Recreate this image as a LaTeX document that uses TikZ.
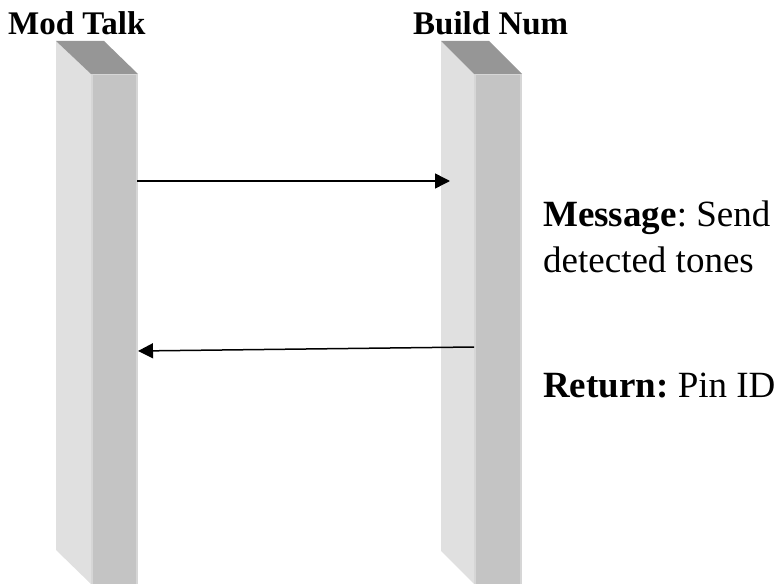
\documentclass[tikz,border=0pt]{standalone}
\usepackage{fontspec}
\setmainfont{Liberation Serif}
\usetikzlibrary{arrows.meta}
\definecolor{sideC}{HTML}{E0E0E0}
\definecolor{frontC}{HTML}{C4C4C4}
\definecolor{topC}{HTML}{969696}
\definecolor{edgeC}{HTML}{D6D6D6}
\frenchspacing
\begin{document}
\begin{tikzpicture}[x=1bp,y=-1bp,
  titletext/.style={anchor=base west,inner sep=0pt,font=\fontsize{33bp}{38bp}\selectfont\bfseries},
  bodytext/.style={anchor=base west,inner sep=0pt,font=\fontsize{37bp}{45bp}\selectfont\frenchspacing},
  msgarrow/.style={line width=1.5bp,-{Triangle[length=15bp,width=15bp]}}]
\useasboundingbox (0,0) rectangle (778,584);
% left lifeline
\fill[sideC] (56,41) -- (91,74) -- (91,584) -- (56,550) -- cycle;
\fill[topC] (56,41) -- (104,41) -- (138,74) -- (91,74) -- cycle;
\fill[frontC] (91,74) rectangle (138,584);
\draw[edgeC,line width=1.2bp] (92,74) -- (92,584) (137,74) -- (137,584) (91,74.5) -- (138,74.5);
% right lifeline
\fill[sideC] (441,41) -- (474,74) -- (474,584) -- (441,551) -- cycle;
\fill[topC] (441,41) -- (489,41) -- (522,74) -- (474,74) -- cycle;
\fill[frontC] (474,74) rectangle (522,584);
\draw[edgeC,line width=1.2bp] (475,74) -- (475,584) (521,74) -- (521,584) (474,74.5) -- (522,74.5);
% titles
\node[titletext] (t1) at (8,35) {Mod Talk};
\node[titletext] (t2) at (413,35) {Build Num};
% arrow end points
\coordinate (a1s) at (137,181);
\coordinate (a1e) at (450,181);
\coordinate (a2s) at (474,347);
\coordinate (a2e) at (138,351);
\draw[msgarrow] (a1s) -- (a1e);
\draw[msgarrow] (a2s) -- (a2e);
% labels
\node[bodytext] (m1) at (543,227) {\textbf{Message}: Send};
\node[bodytext] (m2) at (543,272) {detected tones};
\node[bodytext] (r1) at (543,397) {\textbf{Return:} Pin ID};
\end{tikzpicture}
\end{document}
